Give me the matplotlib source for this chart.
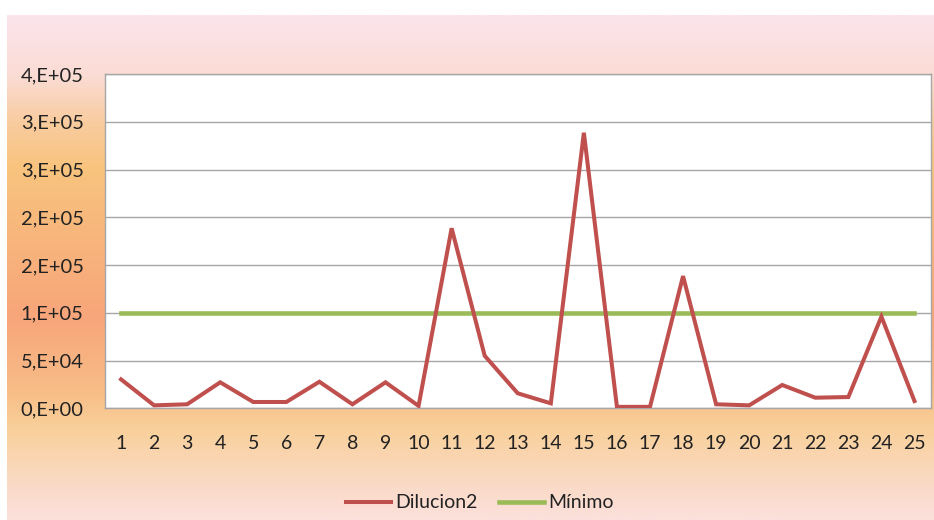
import numpy as np
import matplotlib
matplotlib.use("Agg")
import matplotlib.pyplot as plt
from matplotlib.colors import LinearSegmentedColormap

plt.rcParams['font.family'] = ['Lato', 'DejaVu Sans']

categories = list(range(1, 26))
dilucion2 = [30300, 3100, 4200, 27200, 6600, 6600, 27800, 4200, 27200, 2500,
             188500, 55000, 15700, 5200, 288500, 1500, 1500, 138400, 4200, 3100,
             24400, 11100, 11800, 96000, 7600]
minimo = [100000] * 25
yticks = [0, 50000, 100000, 150000, 200000, 250000, 300000, 350000]
ytick_labels = ['0,E+00', '5,E+04', '1,E+05', '2,E+05', '2,E+05', '3,E+05', '3,E+05', '4,E+05']

W, H = 934, 520
fig = plt.figure(figsize=(W / 100, H / 100), dpi=100)
fig.patch.set_facecolor('white')

# background gradient (chart area)
bg = fig.add_axes([7 / W, 0, (W - 7) / W, (H - 15) / H], zorder=0)
bg.axis('off')
stops = [(0.0, '#FCE4EC'), (0.12, '#FBDCD4'), (0.21, '#F9CCA0'), (0.30, '#F8C47E'),
         (0.60, '#F7A57A'), (0.75, '#F8BE88'), (0.82, '#F9D09A'), (0.92, '#FAD9C2'),
         (1.0, '#FCE0DC')]
cmap = LinearSegmentedColormap.from_list('bgc', stops)
grad = np.linspace(0, 1, 512).reshape(-1, 1)
bg.imshow(grad, aspect='auto', cmap=cmap, extent=[0, 1, 0, 1], origin='upper')
bg.set_xlim(0, 1)
bg.set_ylim(0, 1)

ax = fig.add_axes([104.5 / W, 1 - 408.3 / H, (931 - 104.5) / W, (408.3 - 74) / H], zorder=1)
ax.set_facecolor('white')
ax.plot(categories, dilucion2, color='#C0504D', lw=2.9, label='Dilucion2', solid_joinstyle='miter', zorder=3)
ax.plot(categories, minimo, color='#9BBB59', lw=3.3, label='Mínimo', zorder=2)

ax.set_xlim(0.5, 25.5)
ax.set_ylim(0, 350000)
ax.set_yticks(yticks)
ax.set_yticklabels(ytick_labels)
ax.set_xticks(categories)
ax.set_xticklabels([str(c) for c in categories])
ax.yaxis.grid(True, color='#A6A6A6', lw=1.0)
ax.set_axisbelow(True)
for s in ax.spines.values():
    s.set_color('#A6A6A6')
    s.set_linewidth(1.0)
ax.tick_params(axis='y', length=0, pad=15, labelsize=14.5, labelcolor='#222222')
ax.tick_params(axis='x', length=0, pad=19, labelsize=14, labelcolor='#222222')

fig.legend(loc='center', bbox_to_anchor=(480 / W, 1 - 503 / H), ncol=2, frameon=False,
           fontsize=14, handlelength=2.3, handletextpad=0.25, columnspacing=1.1,
           labelcolor='#222222')

fig.savefig('out.png', dpi=100)
